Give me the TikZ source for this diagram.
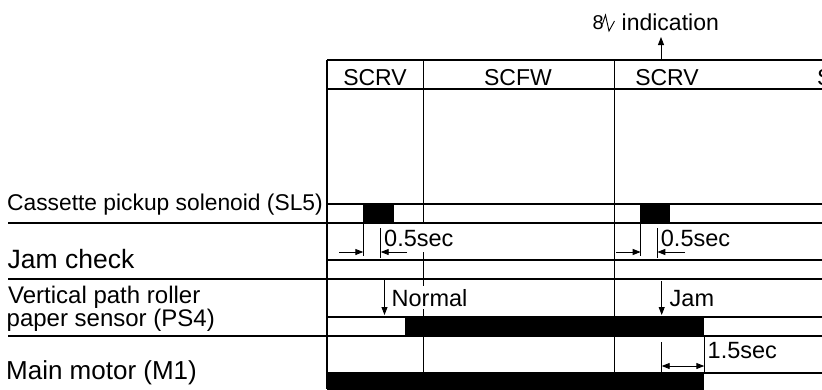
\documentclass[tikz,border=0pt]{standalone}
\usepackage{fontspec}
\setmainfont{Liberation Sans}
\usetikzlibrary{arrows.meta}
\begin{document}
\begin{tikzpicture}[x=1pt,y=-1pt,
  frame/.style={line width=1.7pt},
  gridline/.style={line width=1pt},
  tickline/.style={line width=0.8pt},
  bar/.style={fill=black},
  gap/.style={fill=white},
  lbl/.style={anchor=base west,inner sep=0pt},
  ctxt/.style={anchor=base,inner sep=0pt},
  arr/.style={line width=0.9pt,-{Triangle[length=8pt,width=6pt]}},
  darr/.style={line width=0.9pt,{Triangle[length=8pt,width=6pt]}-{Triangle[length=8pt,width=6pt]}},
]
\useasboundingbox (0,0) rectangle (822,389);
\clip (0,0) rectangle (822,389);

% header
\draw[frame] (327,60) -- (822,60);
\draw[frame] (327,89) -- (822,89);
% verticals
\draw[frame] (327,60) -- (327,389);
\draw[gridline] (423,60) -- (423,389);
\draw[gridline] (614,60) -- (614,389);
% lanes
\draw[frame] (327,204) -- (822,204);
\draw[frame] (8,223) -- (822,223);
\draw[frame] (327,260) -- (822,260);
\draw[frame] (8,279) -- (822,279);
\draw[frame] (327,317) -- (822,317);
\draw[frame] (8,336) -- (822,336);
\draw[frame] (327,373) -- (822,373);

% bars
\fill[bar] (363,204) rectangle (394,223);
\fill[bar] (640,204) rectangle (670,223);
\fill[bar] (405,317) rectangle (704,336);
\fill[bar] (327,373) rectangle (704,395);

% gaps where texts interrupt the grid line
\fill[gap] (420,224.2) rectangle (426,251.5);
\fill[gap] (420,286) rectangle (426,309);

% header texts
\begin{scope}[font=\fontsize{23}{27}\selectfont]
\node[ctxt] (h1) at (375,85) {SCRV};
\node[ctxt] (h2) at (518,85) {SCFW};
\node[ctxt] (h3) at (667,85) {SCRV};
\node[lbl] (h4) at (817,85) {S};
\end{scope}

% indication
\node[lbl,font=\fontsize{20}{23}\selectfont] (eight) at (592.5,29.5) {8};
\draw[line width=0.9pt] (602.5,24) -- (605.5,15) -- (609,31) -- (614.5,21);
\node[lbl,font=\fontsize{23}{27}\selectfont] (ind) at (621.5,30) {indication};
\coordinate (indtop) at (661,60);
\coordinate (indtip) at (661,37);
\draw[arr] (indtop) -- (indtip);

% row labels
\node[lbl,font=\fontsize{22.8}{26}\selectfont] (l1) at (7,210) {Cassette pickup solenoid (SL5)};
\node[lbl,font=\fontsize{26.5}{30}\selectfont] (l2) at (7.5,268) {Jam check};
\node[lbl,font=\fontsize{24}{28}\selectfont] (l3) at (8,303) {Vertical path roller};
\node[lbl,font=\fontsize{24}{28}\selectfont] (l3b) at (6.5,326.5) {paper sensor (PS4)};
\node[lbl,font=\fontsize{26}{30}\selectfont] (l4) at (6,379) {Main motor (M1)};

% 0.5 sec annotations
\begin{scope}[font=\fontsize{23.5}{27}\selectfont]
\node[lbl] (t1) at (384,246.5) {0.5sec};
\node[lbl] (t2) at (660.7,246.5) {0.5sec};
\node[lbl] (nrm) at (391.5,306.5) {Normal};
\node[lbl] (jam) at (669.5,306.5) {Jam};
\node[lbl] (t3) at (707.5,358) {1.5sec};
\end{scope}

\draw[tickline] (363.3,223) -- (363.3,256);
\draw[tickline] (380.7,228) -- (380.7,258);
\coordinate (a1s) at (339,252); \coordinate (a1e) at (363.3,252);
\coordinate (a2s) at (407,252); \coordinate (a2e) at (380.7,252);
\draw[arr] (a1s) -- (a1e);
\draw[arr] (a2s) -- (a2e);

\draw[tickline] (640.7,223) -- (640.7,256);
\draw[tickline] (657.3,228) -- (657.3,258);
\coordinate (b1s) at (616,252); \coordinate (b1e) at (640.7,252);
\coordinate (b2s) at (685,252); \coordinate (b2e) at (657.3,252);
\draw[arr] (b1s) -- (b1e);
\draw[arr] (b2s) -- (b2e);

% Normal / Jam arrows
\coordinate (ns) at (384.5,280); \coordinate (ne) at (384.5,315);
\coordinate (js) at (661.7,281); \coordinate (je) at (661.7,315);
\draw[arr] (ns) -- (ne);
\draw[arr] (js) -- (je);

% 1.5 sec
\draw[tickline] (661.7,342) -- (661.7,373);
\draw[tickline] (704.3,336) -- (704.3,373);
\coordinate (c1) at (661.7,366); \coordinate (c2) at (704.3,366);
\draw[darr] (c1) -- (c2);
\end{tikzpicture}
\end{document}
